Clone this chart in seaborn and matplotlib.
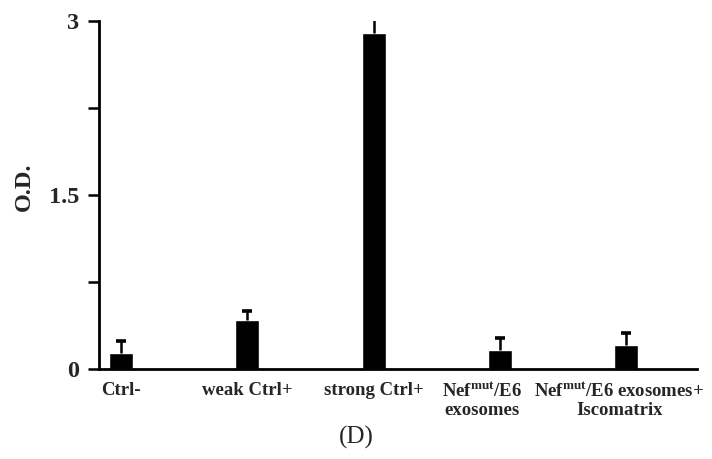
import matplotlib
matplotlib.use("Agg")
import matplotlib.pyplot as plt
import matplotlib.transforms as mtransforms
import seaborn as sns
import pandas as pd
import numpy as np
from matplotlib.ticker import MultipleLocator

categories = ["Ctrl-", "weak Ctrl+", "strong Ctrl+",
              "Nef$^{\\mathrm{mut}}$/E6\nexosomes",
              "Nef$^{\\mathrm{mut}}$/E6 exosomes+\nIscomatrix"]
od_values = [0.14, 0.42, 2.90, 0.16, 0.21]
od_errors = [0.10, 0.08, 0.16, 0.11, 0.105]
yticks = [0, 1.5, 3]
ytick_labels = ["0", "1.5", "3"]

sns.set_style("white")
plt.rcParams["font.family"] = ["Liberation Serif", "DejaVu Serif"]
plt.rcParams["mathtext.fontset"] = "custom"
plt.rcParams["mathtext.rm"] = "Liberation Serif:bold"
plt.rcParams["mathtext.it"] = "Liberation Serif:bold"
plt.rcParams["mathtext.bf"] = "Liberation Serif:bold"

df = pd.DataFrame({"cat": categories, "od": od_values})

fig = plt.figure(figsize=(7.12, 4.59), dpi=100)
ax = fig.add_axes([0.139, 0.196, 0.840, 0.758])

sns.barplot(data=df, x="cat", y="od", color="black", width=0.19,
            errorbar=None, ax=ax, saturation=1)
xs = np.arange(len(categories))
tops = np.array(od_values) + np.array(od_errors)
ax.vlines(xs, od_values, tops, color="black", linewidth=1.8)
ax.scatter(xs, tops, marker="_", s=45, linewidths=2.6, color="black", zorder=3)

ax.set_ylim(0, 3)
ax.set_xlim(-0.175, 4.56)
ax.set_yticks(yticks)
ax.set_yticklabels(ytick_labels, fontsize=17.5, fontweight="bold")
ax.yaxis.set_minor_locator(MultipleLocator(0.75))
ax.tick_params(axis="y", which="both", direction="out", length=8, width=1.8,
               left=True, pad=6, color="black")
ax.tick_params(axis="x", length=0, pad=9)
for lbl in ax.get_xticklabels():
    lbl.set_fontsize(13.5)
    lbl.set_fontweight("bold")
# nudge the crowded right-hand labels slightly left
for idx, shift_px in [(3, -18), (4, -7)]:
    lbl = ax.get_xticklabels()[idx]
    lbl.set_transform(lbl.get_transform() +
                      mtransforms.ScaledTranslation(shift_px / 100, 0, fig.dpi_scale_trans))

ax.set_xlabel("")
ax.set_ylabel("O.D.", fontsize=17.5, fontweight="bold")
ax.yaxis.set_label_coords(-0.108, 0.523)

sns.despine(ax=ax)
for side in ["left", "bottom"]:
    ax.spines[side].set_linewidth(2)
    ax.spines[side].set_color("black")

fig.text(0.501, 0.046, "(D)", ha="center", va="center", fontsize=18)

fig.savefig("out.png", dpi=100)
